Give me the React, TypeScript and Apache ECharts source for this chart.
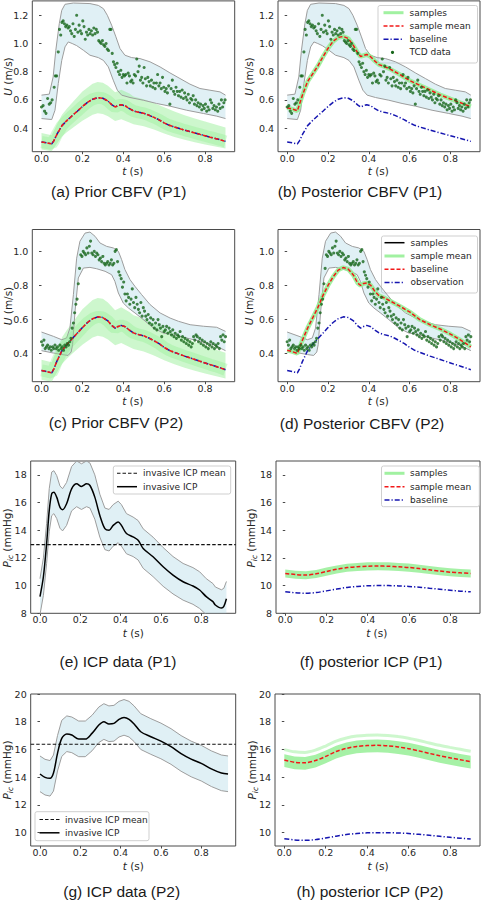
import React, { useEffect, useRef } from 'react';
import * as echarts from 'echarts';

type P = [number, number];

// ---------- tick values ----------
const T_TICKS = [0, 0.2, 0.4, 0.6, 0.8];
const U_TICKS_P1 = [0.4, 0.6, 0.8, 1.0, 1.2];
const U_TICKS_P2 = [0.4, 0.6, 0.8, 1.0];
const ICP_TICKS_P1 = [8, 10, 12, 14, 16, 18];
const ICP_TICKS_P2 = [10, 12, 14, 16, 18, 20];

// ---------- CBFV: prior mean (= baseline) ----------
const PRIOR_MEAN: P[] = [[0,0.302],[0.025,0.296],[0.05,0.288],[0.06,0.31],[0.075,0.355],[0.1,0.418],[0.125,0.455],[0.15,0.488],[0.175,0.52],[0.2,0.553],[0.225,0.583],[0.25,0.605],[0.275,0.616],[0.3,0.612],[0.325,0.592],[0.345,0.565],[0.36,0.55],[0.375,0.56],[0.39,0.566],[0.41,0.558],[0.43,0.538],[0.45,0.522],[0.475,0.512],[0.5,0.505],[0.525,0.492],[0.55,0.476],[0.575,0.459],[0.6,0.437],[0.625,0.42],[0.65,0.408],[0.675,0.397],[0.7,0.386],[0.725,0.376],[0.75,0.366],[0.775,0.356],[0.8,0.346],[0.825,0.336],[0.85,0.327],[0.875,0.317],[0.9,0.306]];
const PRIOR_SAMPLES_HI: P[] = [[0,0.365],[0.05,0.35],[0.075,0.425],[0.1,0.495],[0.125,0.54],[0.15,0.58],[0.2,0.66],[0.25,0.715],[0.275,0.727],[0.3,0.722],[0.325,0.7],[0.36,0.655],[0.39,0.672],[0.43,0.645],[0.45,0.625],[0.5,0.605],[0.55,0.578],[0.6,0.548],[0.65,0.518],[0.7,0.492],[0.75,0.468],[0.8,0.447],[0.85,0.425],[0.9,0.405]];
const PRIOR_SAMPLES_LO: P[] = [[0,0.248],[0.05,0.236],[0.075,0.29],[0.1,0.34],[0.125,0.372],[0.15,0.4],[0.2,0.452],[0.25,0.495],[0.275,0.505],[0.3,0.5],[0.325,0.484],[0.36,0.45],[0.39,0.463],[0.43,0.44],[0.45,0.428],[0.5,0.413],[0.55,0.39],[0.6,0.362],[0.65,0.338],[0.7,0.318],[0.75,0.3],[0.8,0.284],[0.85,0.27],[0.9,0.255]];

// ---------- CBFV P1 ----------
const TCD1_UPPER: P[] = [[0,0.634],[0.038,0.641],[0.057,0.763],[0.07,0.952],[0.087,1.141],[0.099,1.235],[0.115,1.278],[0.156,1.287],[0.237,1.283],[0.278,1.27],[0.303,1.247],[0.322,1.2],[0.343,1.13],[0.364,1.047],[0.384,0.964],[0.408,0.917],[0.441,0.9],[0.482,0.893],[0.531,0.87],[0.58,0.834],[0.628,0.792],[0.677,0.752],[0.726,0.712],[0.775,0.681],[0.824,0.669],[0.873,0.657],[0.9,0.634]];
const TCD1_LOWER: P[] = [[0,0.468],[0.05,0.461],[0.066,0.527],[0.082,0.716],[0.099,0.88],[0.115,0.976],[0.131,1.011],[0.15,1.0],[0.172,0.985],[0.205,0.952],[0.237,0.917],[0.278,0.9],[0.303,0.88],[0.327,0.834],[0.351,0.74],[0.371,0.669],[0.392,0.634],[0.433,0.617],[0.498,0.598],[0.563,0.575],[0.628,0.556],[0.71,0.527],[0.792,0.504],[0.857,0.485],[0.9,0.468]];
const POST1_MEAN: P[] = [[0,0.545],[0.025,0.535],[0.05,0.523],[0.075,0.635],[0.1,0.73],[0.125,0.785],[0.15,0.84],[0.175,0.905],[0.2,0.965],[0.225,1.015],[0.25,1.043],[0.275,1.05],[0.3,1.035],[0.325,0.985],[0.345,0.935],[0.36,0.908],[0.375,0.915],[0.39,0.922],[0.41,0.905],[0.43,0.875],[0.45,0.85],[0.475,0.838],[0.5,0.822],[0.55,0.782],[0.6,0.738],[0.65,0.703],[0.7,0.67],[0.75,0.636],[0.8,0.607],[0.85,0.58],[0.9,0.552]];
const TCD1_DOTS: P[] = [[0,0.55],[0.008,0.56],[0.015,0.52],[0.022,0.505],[0.03,0.61],[0.038,0.57],[0.045,0.58],[0.052,0.6],[0.062,0.69],[0.068,0.77],[0.074,0.77],[0.082,0.94],[0.088,1.1],[0.094,1.06],[0.1,1.15],[0.106,1.16],[0.112,1.14],[0.118,1.12],[0.124,1.13],[0.13,1.11],[0.136,1.12],[0.142,1.09],[0.148,1.07],[0.154,1.14],[0.16,1.05],[0.166,1.1],[0.172,1.2],[0.178,1.08],[0.184,1.13],[0.19,1.09],[0.196,1.07],[0.202,1.16],[0.208,1.12],[0.214,1.03],[0.22,1.08],[0.226,1.06],[0.232,1.1],[0.238,1.07],[0.244,1.09],[0.25,1.06],[0.256,1.11],[0.262,1.07],[0.268,1.1],[0.274,1.08],[0.28,1.02],[0.286,1.01],[0.292,1.0],[0.298,1.02],[0.304,0.99],[0.31,0.98],[0.316,1.0],[0.322,0.96],[0.328,0.95],[0.334,1.1],[0.34,1.1],[0.346,0.93],[0.352,0.87],[0.358,0.85],[0.364,0.83],[0.37,0.86],[0.376,0.8],[0.382,0.78],[0.388,0.81],[0.394,0.76],[0.4,0.78],[0.406,0.77],[0.412,0.78],[0.418,0.72],[0.424,0.79],[0.43,0.77],[0.436,0.73],[0.442,0.74],[0.448,0.72],[0.454,0.78],[0.46,0.77],[0.466,0.89],[0.472,0.8],[0.478,0.84],[0.484,0.74],[0.49,0.76],[0.496,0.72],[0.502,0.83],[0.508,0.75],[0.514,0.7],[0.52,0.76],[0.526,0.73],[0.532,0.7],[0.538,0.74],[0.544,0.69],[0.55,0.72],[0.556,0.68],[0.562,0.72],[0.568,0.78],[0.574,0.7],[0.58,0.72],[0.586,0.68],[0.592,0.76],[0.598,0.69],[0.604,0.66],[0.61,0.68],[0.616,0.65],[0.622,0.7],[0.628,0.57],[0.634,0.68],[0.64,0.74],[0.646,0.66],[0.652,0.64],[0.658,0.69],[0.664,0.66],[0.67,0.63],[0.676,0.66],[0.682,0.62],[0.688,0.67],[0.694,0.61],[0.7,0.65],[0.706,0.62],[0.712,0.6],[0.718,0.64],[0.724,0.58],[0.73,0.61],[0.736,0.6],[0.742,0.63],[0.748,0.57],[0.754,0.6],[0.76,0.56],[0.766,0.58],[0.772,0.55],[0.778,0.57],[0.784,0.53],[0.79,0.56],[0.796,0.54],[0.802,0.57],[0.808,0.52],[0.814,0.55],[0.82,0.53],[0.826,0.6],[0.832,0.58],[0.838,0.54],[0.844,0.56],[0.85,0.53],[0.856,0.55],[0.862,0.52],[0.868,0.57],[0.874,0.54],[0.88,0.6],[0.886,0.55],[0.892,0.58],[0.898,0.6]];

// ---------- CBFV P2 ----------
const TCD2_UPPER: P[] = [[0,0.527],[0.058,0.502],[0.099,0.482],[0.123,0.492],[0.139,0.55],[0.156,0.746],[0.172,0.96],[0.188,1.059],[0.213,1.107],[0.237,1.113],[0.262,1.088],[0.286,1.049],[0.319,1.029],[0.351,1.02],[0.376,1.0],[0.392,0.951],[0.408,0.893],[0.433,0.834],[0.457,0.795],[0.49,0.746],[0.531,0.688],[0.58,0.639],[0.629,0.609],[0.67,0.59],[0.727,0.57],[0.792,0.561],[0.857,0.555],[0.9,0.531]];
const TCD2_LOWER: P[] = [[0,0.418],[0.058,0.404],[0.1,0.395],[0.13,0.39],[0.145,0.41],[0.152,0.453],[0.164,0.648],[0.18,0.844],[0.205,0.902],[0.237,0.906],[0.27,0.898],[0.311,0.883],[0.343,0.863],[0.359,0.824],[0.376,0.756],[0.4,0.697],[0.425,0.668],[0.457,0.639],[0.498,0.6],[0.547,0.551],[0.596,0.521],[0.645,0.512],[0.71,0.492],[0.775,0.473],[0.84,0.453],[0.9,0.418]];
const POST2_MEAN: P[] = [[0,0.42],[0.025,0.412],[0.05,0.402],[0.075,0.48],[0.1,0.55],[0.125,0.61],[0.15,0.67],[0.175,0.74],[0.2,0.8],[0.225,0.85],[0.25,0.89],[0.275,0.905],[0.3,0.895],[0.325,0.86],[0.345,0.815],[0.36,0.8],[0.375,0.812],[0.39,0.815],[0.41,0.8],[0.43,0.765],[0.45,0.74],[0.475,0.728],[0.5,0.712],[0.55,0.68],[0.6,0.645],[0.65,0.6],[0.7,0.57],[0.75,0.545],[0.8,0.515],[0.85,0.48],[0.9,0.44]];
const TCD2_DOTS: P[] = [[0,0.47],[0.006,0.45],[0.012,0.48],[0.018,0.43],[0.024,0.44],[0.03,0.45],[0.036,0.43],[0.042,0.44],[0.048,0.42],[0.054,0.44],[0.06,0.43],[0.066,0.45],[0.072,0.43],[0.078,0.44],[0.084,0.42],[0.09,0.45],[0.096,0.43],[0.102,0.44],[0.108,0.42],[0.114,0.45],[0.12,0.44],[0.126,0.46],[0.132,0.45],[0.138,0.47],[0.144,0.49],[0.15,0.55],[0.156,0.58],[0.162,0.64],[0.168,0.69],[0.174,0.72],[0.18,0.81],[0.186,0.9],[0.192,0.98],[0.198,0.97],[0.204,1.0],[0.21,0.99],[0.216,0.98],[0.222,1.02],[0.228,0.99],[0.234,1.03],[0.24,1.06],[0.246,0.99],[0.252,0.98],[0.258,1.0],[0.264,0.97],[0.27,0.99],[0.276,0.98],[0.282,0.95],[0.288,0.96],[0.294,0.94],[0.3,0.97],[0.306,0.93],[0.312,0.92],[0.318,0.93],[0.324,0.94],[0.33,0.92],[0.336,0.93],[0.342,0.95],[0.348,0.92],[0.354,0.93],[0.36,1.0],[0.366,1.01],[0.372,0.94],[0.378,0.88],[0.384,0.86],[0.39,0.84],[0.396,0.79],[0.402,0.82],[0.408,0.75],[0.414,0.71],[0.42,0.75],[0.426,0.73],[0.432,0.69],[0.438,0.72],[0.444,0.78],[0.45,0.7],[0.456,0.67],[0.462,0.73],[0.468,0.69],[0.474,0.66],[0.48,0.64],[0.486,0.7],[0.492,0.62],[0.498,0.67],[0.504,0.65],[0.51,0.62],[0.516,0.6],[0.522,0.63],[0.528,0.58],[0.534,0.61],[0.54,0.57],[0.546,0.6],[0.552,0.55],[0.558,0.58],[0.564,0.54],[0.57,0.6],[0.576,0.57],[0.582,0.55],[0.588,0.5],[0.594,0.56],[0.6,0.53],[0.606,0.54],[0.612,0.56],[0.618,0.52],[0.624,0.55],[0.63,0.53],[0.636,0.51],[0.642,0.54],[0.648,0.5],[0.654,0.52],[0.66,0.49],[0.666,0.51],[0.672,0.5],[0.678,0.53],[0.684,0.48],[0.69,0.5],[0.696,0.47],[0.702,0.49],[0.708,0.46],[0.714,0.48],[0.72,0.45],[0.726,0.47],[0.732,0.44],[0.738,0.46],[0.744,0.5],[0.75,0.48],[0.756,0.51],[0.762,0.5],[0.768,0.47],[0.774,0.49],[0.78,0.46],[0.786,0.48],[0.792,0.45],[0.798,0.47],[0.804,0.44],[0.81,0.46],[0.816,0.43],[0.822,0.45],[0.828,0.47],[0.834,0.44],[0.84,0.46],[0.846,0.43],[0.852,0.45],[0.858,0.44],[0.864,0.46],[0.87,0.43],[0.876,0.5],[0.882,0.48],[0.888,0.51],[0.894,0.47],[0.9,0.5]];

// ---------- ICP data P1 ----------
const ICP1_DATA: P[] = [[0,9.2],[0.017,10.64],[0.033,13.04],[0.046,15.43],[0.058,16.63],[0.069,16.75],[0.083,16.39],[0.099,15.67],[0.112,15.48],[0.132,15.91],[0.157,16.99],[0.182,17.35],[0.206,17.16],[0.231,17.35],[0.248,17.23],[0.272,16.39],[0.297,15.07],[0.322,14.12],[0.343,14.0],[0.363,14.35],[0.388,14.6],[0.404,14.35],[0.429,13.76],[0.462,13.52],[0.487,13.28],[0.512,12.68],[0.561,12.08],[0.611,11.36],[0.66,10.76],[0.71,10.28],[0.759,9.97],[0.792,9.68],[0.825,9.2],[0.858,8.84],[0.87,8.6],[0.9,8.38],[0.912,8.5],[0.925,9.05]];
const ICP1_UPPER: P[] = [[0,10.5],[0.017,12.0],[0.033,14.5],[0.046,17.0],[0.058,18.2],[0.069,18.3],[0.083,17.95],[0.099,17.2],[0.112,17.0],[0.132,17.45],[0.157,18.6],[0.182,19.0],[0.206,18.8],[0.231,19.0],[0.248,18.85],[0.272,18.0],[0.297,16.6],[0.322,15.6],[0.343,15.5],[0.363,15.85],[0.388,16.1],[0.404,15.85],[0.429,15.2],[0.462,14.95],[0.487,14.7],[0.512,14.1],[0.561,13.5],[0.611,12.75],[0.66,12.1],[0.71,11.6],[0.759,11.3],[0.792,11.0],[0.825,10.5],[0.858,10.15],[0.87,9.9],[0.9,9.7],[0.912,9.8],[0.925,10.3]];
const ICP1_LOWER: P[] = [[0,7.9],[0.017,9.3],[0.033,11.6],[0.046,13.9],[0.058,15.05],[0.069,15.2],[0.083,14.85],[0.099,14.15],[0.112,13.95],[0.132,14.35],[0.157,15.4],[0.182,15.7],[0.206,15.5],[0.231,15.7],[0.248,15.6],[0.272,14.8],[0.297,13.5],[0.322,12.6],[0.343,12.5],[0.363,12.85],[0.388,13.1],[0.404,12.85],[0.429,12.3],[0.462,12.1],[0.487,11.85],[0.512,11.25],[0.561,10.65],[0.611,9.95],[0.66,9.4],[0.71,8.95],[0.759,8.65],[0.792,8.35],[0.825,7.9],[0.858,7.55],[0.87,7.3],[0.9,7.1],[0.912,7.2],[0.925,7.75]];
const ICP1_MEAN_LEVEL = 12.96;

// ---------- ICP data P2 ----------
const ICP2_DATA: P[] = [[0,14.23],[0.025,13.99],[0.05,13.92],[0.067,14.3],[0.087,15.72],[0.108,16.8],[0.133,17.12],[0.158,17.04],[0.192,16.75],[0.225,16.75],[0.258,17.16],[0.292,17.76],[0.317,18.0],[0.342,17.84],[0.367,17.88],[0.392,18.17],[0.417,18.3],[0.442,18.17],[0.467,17.84],[0.5,17.28],[0.55,16.92],[0.6,16.6],[0.65,16.2],[0.7,15.7],[0.75,15.3],[0.8,15.0],[0.85,14.6],[0.9,14.3],[0.933,14.23]];
const ICP2_UPPER: P[] = [[0,15.53],[0.025,15.29],[0.05,15.2],[0.067,15.6],[0.087,17.0],[0.108,18.1],[0.133,18.42],[0.158,18.34],[0.192,18.05],[0.225,18.05],[0.258,18.46],[0.292,19.06],[0.317,19.3],[0.342,19.14],[0.367,19.18],[0.392,19.47],[0.417,19.6],[0.442,19.47],[0.467,19.14],[0.5,18.58],[0.55,18.22],[0.6,17.9],[0.65,17.5],[0.7,17.0],[0.75,16.6],[0.8,16.3],[0.85,15.9],[0.9,15.6],[0.933,15.53]];
const ICP2_LOWER: P[] = [[0,12.96],[0.025,12.72],[0.05,12.64],[0.067,13.0],[0.087,14.45],[0.108,15.5],[0.133,15.85],[0.158,15.77],[0.192,15.48],[0.225,15.48],[0.258,15.9],[0.292,16.5],[0.317,16.73],[0.342,16.57],[0.367,16.6],[0.392,16.9],[0.417,17.03],[0.442,16.9],[0.467,16.57],[0.5,16.0],[0.55,15.65],[0.6,15.33],[0.65,14.93],[0.7,14.43],[0.75,14.03],[0.8,13.73],[0.85,13.33],[0.9,13.03],[0.933,12.96]];
const ICP2_MEAN_LEVEL = 16.38;

// ---------- posterior ICP ----------
const T_POST = [0, 0.05, 0.1, 0.15, 0.2, 0.25, 0.3, 0.35, 0.4, 0.45, 0.5, 0.55, 0.6, 0.65, 0.7, 0.75, 0.8, 0.85, 0.9];
const ICP_BASE = [9.56, 9.48, 9.45, 9.5, 9.62, 9.75, 9.87, 9.94, 9.99, 10.0, 10.0, 9.98, 9.94, 9.88, 9.81, 9.74, 9.67, 9.6, 9.55];
const ICP_POST1_MEAN = [10.88, 10.8, 10.76, 10.85, 11.02, 11.18, 11.3, 11.36, 11.4, 11.41, 11.4, 11.36, 11.31, 11.23, 11.14, 11.05, 10.97, 10.92, 10.88];
const ICP_POST1_HI = [11.16, 11.08, 11.04, 11.13, 11.3, 11.46, 11.58, 11.64, 11.68, 11.69, 11.68, 11.64, 11.59, 11.51, 11.42, 11.33, 11.25, 11.2, 11.16];
const ICP_POST1_LO = [10.58, 10.5, 10.46, 10.55, 10.72, 10.88, 11.0, 11.06, 11.1, 11.11, 11.1, 11.06, 11.01, 10.93, 10.84, 10.75, 10.67, 10.62, 10.58];
const ICP_POST2_MEAN = [15.24, 15.08, 15.04, 15.2, 15.5, 15.85, 16.08, 16.22, 16.28, 16.3, 16.26, 16.18, 16.06, 15.9, 15.72, 15.55, 15.4, 15.26, 15.12];
const ICP_POST2_HI = [15.66, 15.5, 15.46, 15.62, 15.92, 16.27, 16.5, 16.64, 16.7, 16.72, 16.68, 16.6, 16.48, 16.32, 16.14, 15.97, 15.82, 15.68, 15.54];
const ICP_POST2_LO = [14.74, 14.58, 14.54, 14.7, 15.0, 15.35, 15.58, 15.72, 15.78, 15.8, 15.76, 15.68, 15.56, 15.4, 15.22, 15.05, 14.9, 14.76, 14.62];
const ICP_POST2_TOP = [15.99, 15.83, 15.79, 15.95, 16.25, 16.6, 16.83, 16.97, 17.03, 17.05, 17.01, 16.93, 16.81, 16.65, 16.47, 16.3, 16.15, 16.01, 15.87];

// ---------- styling ----------
const FONT = '"DejaVu Sans", sans-serif';
const CAP_FONT = '"Liberation Sans", Arial, sans-serif';
const TXT = '#262626';
const BAND_FILL = 'rgba(173,216,230,0.38)';
const EDGE = '#9d9d9d';
const GREEN = 'rgba(144,238,144,0.85)';
const RED = '#f21818';
const BLUE = '#1515b0';
const DOT = '#17661a';
const DASH = [4, 2];
const DASHDOT = [5, 2, 1.2, 2];

const zip = (ts: number[], vs: number[]): P[] => ts.map((t, i) => [t, vs[i]] as P);

interface Panel { grid: number[]; x: number[]; y: number[]; yTicks: number[]; dec: number; }
const PANELS: Panel[] = [
  { grid: [32.3, 0.9, 202.4, 150.8], x: [-0.045, 0.945], y: [0.233, 1.302], yTicks: U_TICKS_P1, dec: 1 },
  { grid: [278, 0.9, 202, 150.8], x: [-0.045, 0.945], y: [0.233, 1.302], yTicks: U_TICKS_P1, dec: 1 },
  { grid: [32.3, 229.5, 202.4, 152.2], x: [-0.045, 0.945], y: [0.236, 1.128], yTicks: U_TICKS_P2, dec: 1 },
  { grid: [278, 229.5, 202, 152.2], x: [-0.045, 0.945], y: [0.236, 1.128], yTicks: U_TICKS_P2, dec: 1 },
  { grid: [30.7, 461, 205, 152.3], x: [-0.046, 0.971], y: [8, 19], yTicks: ICP_TICKS_P1, dec: 0 },
  { grid: [276, 461, 204, 152.3], x: [-0.045, 0.945], y: [8, 19], yTicks: ICP_TICKS_P1, dec: 0 },
  { grid: [30.7, 694, 205, 152], x: [-0.046, 0.971], y: [9.04, 20], yTicks: ICP_TICKS_P2, dec: 0 },
  { grid: [275, 694, 205, 152], x: [-0.045, 0.945], y: [9.04, 20], yTicks: ICP_TICKS_P2, dec: 0 },
];

function band(idx: number, lo: P[], hi: P[], fill: string, z = 1) {
  return {
    type: 'custom', xAxisIndex: idx, yAxisIndex: idx, data: [hi[0]], silent: true, z, clip: true,
    renderItem: (_params: any, api: any) => {
      const pts = lo.map((p) => api.coord(p)).concat(hi.slice().reverse().map((p) => api.coord(p)));
      return { type: 'polygon', shape: { points: pts }, style: { fill, stroke: 'none' } };
    },
  };
}
function line(idx: number, data: P[], color: string, width: number, type: any = 'solid', z = 3) {
  return {
    type: 'line', xAxisIndex: idx, yAxisIndex: idx, data, symbol: 'none', showSymbol: false, silent: true,
    clip: true, z, lineStyle: { color, width, type, cap: 'butt' },
  };
}
function dots(idx: number, data: P[]) {
  return {
    type: 'scatter', xAxisIndex: idx, yAxisIndex: idx, data, symbol: 'circle', symbolSize: 3.1, silent: true, z: 6,
    itemStyle: { color: DOT },
  };
}
function hline(idx: number, level: number) {
  const p = PANELS[idx];
  return line(idx, [[p.x[0], level], [p.x[1], level]], '#111', 1.1, [3.5, 2], 4);
}

interface LegItem { label: string; kind: 'line' | 'dot'; color: string; width?: number; dash?: number[]; }
function legend(bx: number, by: number, bw: number, bh: number, rows: number[], hx: number, tx: number, items: LegItem[]) {
  const children: any[] = [
    { type: 'rect', shape: { x: bx, y: by, width: bw, height: bh, r: 2 }, style: { fill: 'rgba(255,255,255,0.85)', stroke: '#cfcfcf', lineWidth: 1 } },
  ];
  items.forEach((it, i) => {
    const y = rows[i];
    if (it.kind === 'line') {
      children.push({ type: 'line', shape: { x1: hx, y1: y, x2: hx + 20, y2: y }, style: { stroke: it.color, lineWidth: it.width || 1.5, lineDash: it.dash || null } });
    } else {
      children.push({ type: 'circle', shape: { cx: hx + 9, cy: y, r: 1.6 }, style: { fill: it.color } });
    }
    children.push({ type: 'text', x: tx, y, style: { text: it.label, fontSize: 9, fontFamily: FONT, fill: TXT, align: 'left', verticalAlign: 'middle' } });
  });
  return { type: 'group', silent: true, z: 50, children };
}

function tTitle(x: number, y: number) {
  return {
    type: 'text', x, y, silent: true, z: 50,
    style: { text: '{i|t} (s)', rich: { i: { fontStyle: 'italic', fontSize: 10.5, fontFamily: FONT, fill: TXT } }, fontSize: 10.5, fontFamily: FONT, fill: TXT, align: 'center', verticalAlign: 'middle' },
  };
}
function uTitle(x: number, y: number) {
  return {
    type: 'text', x, y, rotation: Math.PI / 2, silent: true, z: 50,
    style: { text: '{i|U} (m/s)', rich: { i: { fontStyle: 'italic', fontSize: 10.5, fontFamily: FONT, fill: TXT } }, fontSize: 10.5, fontFamily: FONT, fill: TXT, align: 'center', verticalAlign: 'middle' },
  };
}
function pTitle(x: number, y: number) {
  return {
    type: 'text', x, y, rotation: Math.PI / 2, silent: true, z: 50,
    style: {
      text: '{i|P}{s|ic}{n| (mmHg)}',
      rich: {
        i: { fontStyle: 'italic', fontSize: 10.5, fontFamily: FONT, fill: TXT, lineHeight: 15 },
        s: { fontStyle: 'italic', fontSize: 7.5, fontFamily: FONT, fill: TXT, verticalAlign: 'bottom' },
        n: { fontSize: 10.5, fontFamily: FONT, fill: TXT, lineHeight: 15 },
      },
      align: 'center', verticalAlign: 'middle',
    },
  };
}
function caption(x: number, y: number, text: string) {
  return { type: 'text', x, y, silent: true, z: 50, style: { text, fontSize: 15.5, fontFamily: CAP_FONT, fill: '#1a1a1a', align: 'center', verticalAlign: 'middle' } };
}

function buildOption() {
  const grid = PANELS.map((p) => ({
    left: p.grid[0], top: p.grid[1], width: p.grid[2], height: p.grid[3],
    show: true, borderColor: '#4a4a4a', borderWidth: 1, backgroundColor: 'transparent', containLabel: false, outerBoundsMode: 'none',
  }));
  const xAxis = PANELS.map((p, i) => ({
    gridIndex: i, type: 'value', min: p.x[0], max: p.x[1],
    axisLine: { show: false }, splitLine: { show: false },
    axisTick: { show: true, customValues: T_TICKS, length: 2.5, lineStyle: { color: '#4a4a4a', width: 1 } },
    axisLabel: { show: true, customValues: T_TICKS, formatter: (v: number) => v.toFixed(1), fontSize: 9.5, fontFamily: FONT, color: TXT, margin: 1.5 },
  }));
  const yAxis = PANELS.map((p, i) => ({
    gridIndex: i, type: 'value', min: p.y[0], max: p.y[1],
    axisLine: { show: false }, splitLine: { show: false },
    axisTick: { show: true, customValues: p.yTicks, length: 2.5, lineStyle: { color: '#4a4a4a', width: 1 } },
    axisLabel: { show: true, customValues: p.yTicks, formatter: (v: number) => v.toFixed(p.dec), fontSize: 9.5, fontFamily: FONT, color: TXT, margin: 4 },
  }));

  const series: any[] = [];
  // (a) prior P1
  series.push(band(0, TCD1_LOWER, TCD1_UPPER, BAND_FILL));
  series.push(line(0, TCD1_UPPER, EDGE, 1, 'solid', 2), line(0, TCD1_LOWER, EDGE, 1, 'solid', 2));
  series.push(band(0, PRIOR_SAMPLES_LO, PRIOR_SAMPLES_HI, 'rgba(144,238,144,0.45)', 2));
  series.push(line(0, PRIOR_MEAN, 'rgba(144,238,144,0.35)', 12, 'solid', 2));
  series.push(line(0, PRIOR_MEAN, BLUE, 1.5, DASHDOT, 4), line(0, PRIOR_MEAN, RED, 1.5, DASH, 5));
  series.push(dots(0, TCD1_DOTS));
  // (b) posterior P1
  series.push(band(1, TCD1_LOWER, TCD1_UPPER, BAND_FILL));
  series.push(line(1, TCD1_UPPER, EDGE, 1, 'solid', 2), line(1, TCD1_LOWER, EDGE, 1, 'solid', 2));
  series.push(line(1, POST1_MEAN, GREEN, 4.5, 'solid', 3));
  series.push(line(1, POST1_MEAN, RED, 1.5, DASH, 5));
  series.push(line(1, PRIOR_MEAN, BLUE, 1.5, DASHDOT, 4));
  series.push(dots(1, TCD1_DOTS));
  // (c) prior P2
  series.push(band(2, TCD2_LOWER, TCD2_UPPER, BAND_FILL));
  series.push(line(2, TCD2_UPPER, EDGE, 1, 'solid', 2), line(2, TCD2_LOWER, EDGE, 1, 'solid', 2));
  series.push(band(2, PRIOR_SAMPLES_LO, PRIOR_SAMPLES_HI, 'rgba(144,238,144,0.45)', 2));
  series.push(line(2, PRIOR_MEAN, 'rgba(144,238,144,0.35)', 12, 'solid', 2));
  series.push(line(2, PRIOR_MEAN, BLUE, 1.5, DASHDOT, 4), line(2, PRIOR_MEAN, RED, 1.5, DASH, 5));
  series.push(dots(2, TCD2_DOTS));
  // (d) posterior P2
  series.push(band(3, TCD2_LOWER, TCD2_UPPER, BAND_FILL));
  series.push(line(3, TCD2_UPPER, EDGE, 1, 'solid', 2), line(3, TCD2_LOWER, EDGE, 1, 'solid', 2));
  series.push(line(3, POST2_MEAN, GREEN, 4.5, 'solid', 3));
  series.push(line(3, POST2_MEAN, RED, 1.5, DASH, 5));
  series.push(line(3, PRIOR_MEAN, BLUE, 1.5, DASHDOT, 4));
  series.push(dots(3, TCD2_DOTS));
  // (e) ICP data P1
  series.push(band(4, ICP1_LOWER, ICP1_UPPER, BAND_FILL));
  series.push(line(4, ICP1_UPPER, EDGE, 1, 'solid', 2), line(4, ICP1_LOWER, EDGE, 1, 'solid', 2));
  series.push(hline(4, ICP1_MEAN_LEVEL));
  series.push({ ...line(4, ICP1_DATA, '#000', 1.5, 'solid', 5), smooth: 0.3 });
  // (f) posterior ICP P1
  series.push(band(5, zip(T_POST, ICP_POST1_LO), zip(T_POST, ICP_POST1_HI), 'rgba(144,238,144,0.8)', 2));
  series.push({ ...line(5, zip(T_POST, ICP_POST1_MEAN), RED, 1.5, DASH, 5), smooth: 0.3 });
  series.push({ ...line(5, zip(T_POST, ICP_BASE), BLUE, 1.5, DASHDOT, 4), smooth: 0.3 });
  // (g) ICP data P2
  series.push(band(6, ICP2_LOWER, ICP2_UPPER, BAND_FILL));
  series.push(line(6, ICP2_UPPER, EDGE, 1, 'solid', 2), line(6, ICP2_LOWER, EDGE, 1, 'solid', 2));
  series.push(hline(6, ICP2_MEAN_LEVEL));
  series.push({ ...line(6, ICP2_DATA, '#000', 1.5, 'solid', 5), smooth: 0.3 });
  // (h) posterior ICP P2
  series.push({ ...line(7, zip(T_POST, ICP_POST2_TOP), 'rgba(144,238,144,0.45)', 3, 'solid', 2), smooth: 0.3 });
  series.push(band(7, zip(T_POST, ICP_POST2_LO), zip(T_POST, ICP_POST2_HI), 'rgba(144,238,144,0.8)', 2));
  series.push({ ...line(7, zip(T_POST, ICP_POST2_MEAN), RED, 1.5, DASH, 5), smooth: 0.3 });
  series.push({ ...line(7, zip(T_POST, ICP_BASE), BLUE, 1.5, DASHDOT, 4), smooth: 0.3 });

  const graphic: any[] = [
    tTitle(132.7, 171), uTitle(8.3, 76.5), caption(118.7, 191.7, '(a) Prior CBFV (P1)'),
    tTitle(378.3, 171), uTitle(248.5, 76.5), caption(360, 191.7, '(b) Posterior CBFV (P1)'),
    tTitle(132.7, 401), uTitle(8.3, 306), caption(116, 422.7, '(c) Prior CBFV (P2)'),
    tTitle(378.3, 401), uTitle(248.5, 306), caption(362, 423.3, '(d) Posterior CBFV (P2)'),
    tTitle(133.3, 632.7), pTitle(7.3, 538), caption(118, 661, '(e) ICP data (P1)'),
    tTitle(376.7, 632.7), pTitle(251, 538), caption(371, 661, '(f) posterior ICP (P1)'),
    tTitle(133.3, 865.5), pTitle(7.3, 770), caption(121.7, 891.7, '(g) ICP data (P2)'),
    tTitle(378, 865.5), pTitle(251.7, 770), caption(370, 891.7, '(h) posterior ICP (P2)'),
    legend(378, 5.5, 99.5, 57.5, [12.7, 26, 39.2, 52.4], 383.5, 409.5, [
      { label: 'samples', kind: 'line', color: GREEN, width: 3 },
      { label: 'sample mean', kind: 'line', color: RED, width: 1.5, dash: DASH },
      { label: 'baseline', kind: 'line', color: BLUE, width: 1.5, dash: DASHDOT },
      { label: 'TCD data', kind: 'dot', color: DOT },
    ]),
    legend(381.5, 236, 96, 57, [242.7, 256, 269.2, 282.4], 384.5, 410.5, [
      { label: 'samples', kind: 'line', color: '#000', width: 1.5 },
      { label: 'sample mean', kind: 'line', color: GREEN, width: 3 },
      { label: 'baseline', kind: 'line', color: RED, width: 1.5, dash: DASH },
      { label: 'observation', kind: 'line', color: BLUE, width: 1.5, dash: DASHDOT },
    ]),
    legend(113.3, 466, 117.4, 28, [473.3, 486.7], 117, 143, [
      { label: 'invasive ICP mean', kind: 'line', color: '#111', width: 1.1, dash: [3.5, 2] },
      { label: 'invasive ICP', kind: 'line', color: '#000', width: 1.5 },
    ]),
    legend(381.5, 466, 97.8, 40.7, [473.3, 486.7, 500], 384.5, 410, [
      { label: 'samples', kind: 'line', color: GREEN, width: 3 },
      { label: 'sample mean', kind: 'line', color: RED, width: 1.5, dash: DASH },
      { label: 'baseline', kind: 'line', color: BLUE, width: 1.5, dash: DASHDOT },
    ]),
    legend(35, 811.7, 114, 29, [819.5, 832.8], 39.5, 65, [
      { label: 'invasive ICP mean', kind: 'line', color: '#111', width: 1.1, dash: [3.5, 2] },
      { label: 'invasive ICP', kind: 'line', color: '#000', width: 1.5 },
    ]),
  ];

  return { animation: false, backgroundColor: '#ffffff', grid, xAxis, yAxis, series, graphic };
}

export default function App() {
  const ref = useRef<HTMLDivElement>(null);
  useEffect(() => {
    if (!ref.current) return;
    const chart = echarts.init(ref.current, null, { renderer: 'svg', width: 481, height: 900 });
    chart.setOption(buildOption() as any);
    return () => chart.dispose();
  }, []);
  return <div ref={ref} style={{ position: 'fixed', left: 0, top: 0, width: 481, height: 900, background: '#fff' }} />;
}
